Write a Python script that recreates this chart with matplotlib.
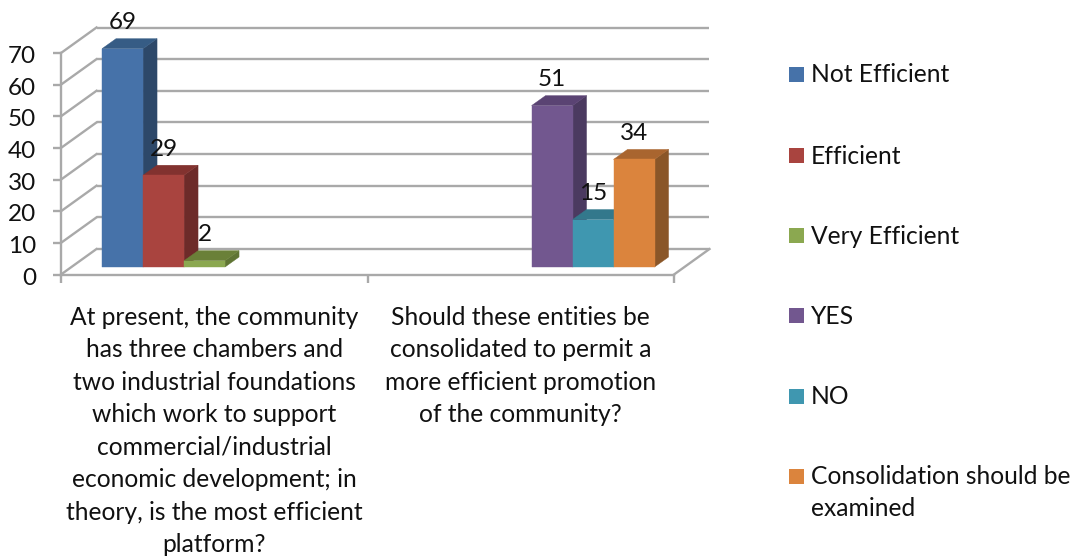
import matplotlib
matplotlib.use("Agg")
import matplotlib.pyplot as plt
from matplotlib.patches import Polygon, Rectangle
from matplotlib.transforms import ScaledTranslation

plt.rcParams['font.family'] = ['Lato', 'DejaVu Sans']

categories = [
    "At present, the community\nhas three chambers and\ntwo industrial foundations\nwhich work to support\ncommercial/industrial\neconomic development; in\ntheory, is the most efficient\nplatform?",
    "Should these entities be\nconsolidated to permit a\nmore efficient promotion\nof the community?",
]
series_names = ["Not Efficient", "Efficient", "Very Efficient", "YES", "NO",
                "Consolidation should be\nexamined"]
not_efficient = [69, None]
efficient = [29, None]
very_efficient = [2, None]
yes = [None, 51]
no = [None, 15]
consolidate = [None, 34]
all_series = [not_efficient, efficient, very_efficient, yes, no, consolidate]
y_ticks = [0, 10, 20, 30, 40, 50, 60, 70]

# (front, top, side) shades for each series
shades = [
    ("#4672A9", "#365C85", "#2D4869"),
    ("#A9443F", "#82322F", "#6D2B29"),
    ("#8BA850", "#6A8038", "#5F7433"),
    ("#72578F", "#5A4373", "#4B3A60"),
    ("#3F97B0", "#33788C", "#33788C"),
    ("#DB843D", "#A9652F", "#8A5628"),
]

W, H = 1073, 557
GRID = "#a9a9a9"
GRID_LW = 1.7
TEXT = "#111111"
fig = plt.figure(figsize=(W / 100, H / 100), dpi=100)
left, right, bottom, top = 61, 674, 274.5, 53
ax = fig.add_axes([left / W, 1 - bottom / H, (right - left) / W, (bottom - top) / H])
ax.set_xlim(0, 2)
ax.set_ylim(0, 70)
ax.patch.set_visible(False)

px_x = 2 / (right - left)          # data units per pixel, horizontally
px_y = 70 / (bottom - top)         # data units per pixel, vertically
wall_dx, wall_dy = 35.5 * px_x, 25.5 * px_y
slot = 41 * px_x
base_dx, base_dy = 10.8 * px_x, 7.5 * px_y
bar_dx, bar_dy = 14 * px_x, 10 * px_y

# Back wall, side wall and floor
for v in y_ticks:
    ax.plot([wall_dx, 2 + wall_dx], [v + wall_dy] * 2, color=GRID, lw=GRID_LW,
            clip_on=False, zorder=1, solid_capstyle="butt")
    ax.plot([0, wall_dx], [v, v + wall_dy], color=GRID, lw=GRID_LW, clip_on=False, zorder=1)
ax.plot([2, 2 + wall_dx], [0, wall_dy], color=GRID, lw=GRID_LW, clip_on=False, zorder=1)

# Axis lines and labels
for name in ("top", "right"):
    ax.spines[name].set_visible(False)
for name in ("left", "bottom"):
    ax.spines[name].set_color(GRID)
    ax.spines[name].set_linewidth(GRID_LW)
    ax.spines[name].set_zorder(1)
ax.set_yticks(y_ticks)
ax.set_xticks([0, 1, 2])
ax.set_xticklabels([])
ax.tick_params(axis="both", which="major", color=GRID, width=GRID_LW, length=6,
               labelsize=17.5, labelcolor=TEXT)
ax.tick_params(axis="y", pad=12)
nudge = ScaledTranslation(0, -1.5 / 100, fig.dpi_scale_trans)
for label in ax.get_yticklabels():
    label.set_transform(label.get_transform() + nudge)
ax.set_xticks([0.5, 1.5], minor=True)
ax.set_xticklabels(categories, minor=True, fontsize=17.7, color=TEXT,
                   linespacing=1.5, ha="center", va="top")
ax.tick_params(axis="x", which="minor", length=0, pad=22.5)


def quad(points, color, z):
    ax.add_patch(Polygon(points, closed=True, facecolor=color, edgecolor=color, lw=0.3,
                         clip_on=False, zorder=z))


# Clustered pseudo-3D bars: six slots per category, later bars overlap earlier ones
for s, (values, (front, roof, side)) in enumerate(zip(all_series, shades)):
    for c, value in enumerate(values):
        if value is None:
            continue
        x0 = c + 0.5 + (s - 3) * slot + base_dx
        x1 = x0 + slot
        y0 = base_dy
        y1 = y0 + value
        z = 3 + s
        quad([(x1, y0), (x1 + bar_dx, y0 + bar_dy), (x1 + bar_dx, y1 + bar_dy), (x1, y1)], side, z)
        quad([(x0, y1), (x1, y1), (x1 + bar_dx, y1 + bar_dy), (x0 + bar_dx, y1 + bar_dy)], roof, z)
        quad([(x0, y0), (x1, y0), (x1, y1), (x0, y1)], front, z)
        ax.annotate(str(value), (x0 + slot / 2, y1), xytext=(0, 18.5), textcoords="offset points",
                    ha="center", va="center", fontsize=17.5, color=TEXT, zorder=20,
                    annotation_clip=False)

# Legend column
legend_rows = [74, 155, 235, 315, 396, 476]
for name, (front, _, _), row in zip(series_names, shades, legend_rows):
    fig.add_artist(Rectangle((789 / W, 1 - (row + 7.5) / H), 15 / W, 15 / H,
                             transform=fig.transFigure, facecolor=front, edgecolor="none"))
    fig.text(811 / W, 1 - (row - 10.5) / H, name, fontsize=17.7, color=TEXT,
             ha="left", va="top", linespacing=1.47)

fig.savefig("out.png", dpi=100)
